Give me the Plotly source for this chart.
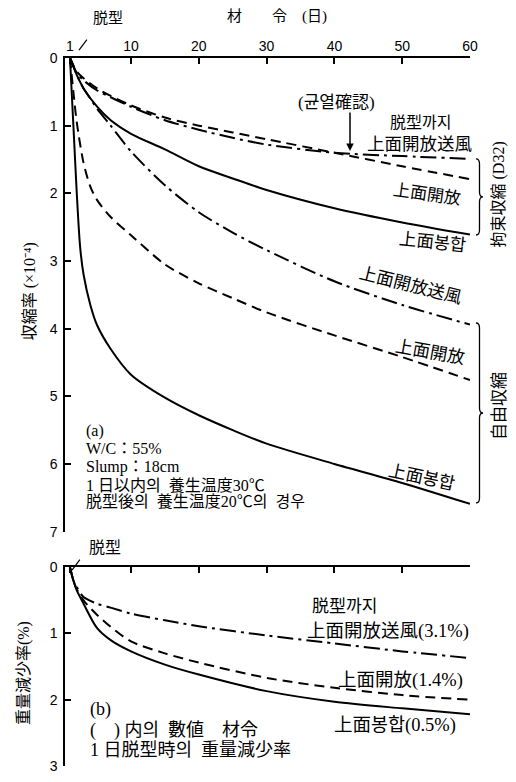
import plotly.graph_objects as go

# ---------------- data ----------------
# (a) constrained shrinkage (拘束収縮 D32), x10^-4
c_days = [1, 2, 3, 5, 7, 10, 15, 20, 25, 30, 40, 50, 60]
c_blow = [0, 0.22, 0.33, 0.48, 0.58, 0.72, 0.92, 1.06, 1.18, 1.28, 1.40, 1.45, 1.49]
c_open = [0, 0.20, 0.30, 0.45, 0.56, 0.70, 0.88, 1.00, 1.10, 1.20, 1.40, 1.60, 1.79]
c_seal = [0, 0.25, 0.45, 0.72, 0.92, 1.12, 1.35, 1.60, 1.78, 1.95, 2.22, 2.43, 2.61]

# (a) free shrinkage (自由収縮)
fb_days = [1, 1.5, 2, 3, 4, 5, 7, 10, 15, 20, 25, 30, 40, 50, 60]
f_blow = [0, 0.12, 0.25, 0.45, 0.60, 0.75, 1.00, 1.38, 1.88, 2.28, 2.58, 2.84, 3.30, 3.65, 3.94]
fo_days = [1, 1.5, 2, 3, 4, 5, 7, 10, 15, 20, 25, 30, 40, 50, 60]
f_open = [0, 0.50, 0.95, 1.55, 1.90, 2.10, 2.35, 2.62, 3.05, 3.33, 3.55, 3.76, 4.10, 4.42, 4.76]
fs_days = [1, 1.3, 1.6, 2, 2.5, 3, 4, 5, 7, 10, 15, 20, 25, 30, 40, 50, 60]
f_seal = [0, 0.6, 1.2, 2.0, 2.8, 3.2, 3.65, 3.95, 4.3, 4.68, 5.02, 5.28, 5.5, 5.7, 6.0, 6.28, 6.59]

# (b) weight loss (重量減少率 %)
w_days = [1, 1.5, 2, 3, 5, 7, 10, 15, 20, 30, 40, 50, 60]
w_blow = [0, 0.20, 0.30, 0.45, 0.55, 0.61, 0.70, 0.80, 0.89, 1.03, 1.15, 1.27, 1.37]
w_open = [0, 0.20, 0.33, 0.50, 0.72, 0.90, 1.12, 1.30, 1.44, 1.67, 1.82, 1.93, 2.00]
w_seal = [0, 0.20, 0.35, 0.55, 0.92, 1.10, 1.27, 1.47, 1.62, 1.87, 2.03, 2.13, 2.22]

x_ticks = [1, 10, 20, 30, 40, 50, 60]
y1_ticks = [0, 1, 2, 3, 4, 5, 6, 7]
y2_ticks = [0, 1, 2, 3]

# ---------------- layout helpers ----------------
W, H = 516, 782
ML, MR, MT, MB = 65, 46, 58, 8
PW, PH = W - ML - MR, H - MT - MB


def px(xp):
    return (xp - ML) / PW


def py(yp):
    return (H - MB - yp) / PH


FONT = "Liberation Serif, Noto Sans CJK JP, serif"
TICKFONT = dict(family="Liberation Sans Narrow, Liberation Sans, sans-serif", size=14, color="black")
DASH = "10px,6px"
DASHDOT = "16px,5px,3px,5px"

fig = go.Figure()


def add(xs, ys, dash, xa, ya):
    fig.add_trace(go.Scatter(x=xs, y=ys, mode="lines", xaxis=xa, yaxis=ya,
                             line=dict(color="black", width=2, dash=dash, shape="spline", smoothing=0.8),
                             showlegend=False, hoverinfo="skip"))


add(c_days, c_blow, DASHDOT, "x", "y")
add(c_days, c_open, DASH, "x", "y")
add(c_days, c_seal, "solid", "x", "y")
add(fb_days, f_blow, DASHDOT, "x", "y")
add(fo_days, f_open, DASH, "x", "y")
add(fs_days, f_seal, "solid", "x", "y")
add(w_days, w_blow, DASHDOT, "x2", "y2")
add(w_days, w_open, DASH, "x2", "y2")
add(w_days, w_seal, "solid", "x2", "y2")

xr = [1 - 5 / (400 / 59), 60]
axcommon = dict(range=xr, side="top", showline=True, linecolor="black", linewidth=1.5,
                ticks="inside", ticklen=6, tickwidth=1.5, tickcolor="black",
                tickvals=x_ticks, showgrid=False, zeroline=False, tickfont=TICKFONT)
yaxcommon = dict(showline=True, linecolor="black", linewidth=1.5, ticks="inside", ticklen=6,
                 tickwidth=1.5, tickcolor="black", showgrid=False, zeroline=False,
                 tickfont=TICKFONT, ticklabelstandoff=3)

fig.update_layout(
    width=W, height=H, margin=dict(l=ML, r=MR, t=MT, b=MB),
    paper_bgcolor="white", plot_bgcolor="white", showlegend=False,
    xaxis=dict(domain=[0, 1], anchor="y", showticklabels=True, ticklabelstandoff=0, **axcommon),
    xaxis2=dict(domain=[0, 1], anchor="y2", showticklabels=False, **axcommon),
    yaxis=dict(domain=[py(537), 1], range=[7, 0], anchor="x", tickvals=y1_ticks, **yaxcommon),
    yaxis2=dict(domain=[0, py(573)], range=[3, 0], anchor="x2", tickvals=y2_ticks, **yaxcommon),
)

ann = []


def text(xp, yp, s, size=15, angle=0, xanchor="center", yanchor="middle", align="center"):
    ann.append(dict(x=px(xp), y=py(yp), xref="paper", yref="paper", text=s, showarrow=False,
                    font=dict(family=FONT, size=size, color="black"), textangle=angle,
                    xanchor=xanchor, yanchor=yanchor, align=align))


def slash(x0, y0, x1, y1):
    ann.append(dict(x=px(x0), y=py(y0), xref="paper", yref="paper", text="", showarrow=True,
                    ax=x1 - x0, ay=y1 - y0, arrowhead=0, arrowwidth=1.2, arrowcolor="black"))


# title / axis titles
text(277, 16, "材　　令　(日)", size=15)
text(108, 18, "脱型", size=15)
slash(79, 50, 88, 38)
text(30, 294, "収縮率 (×10⁻⁴)", size=16, angle=-90)
text(24, 680, "重量減少率(%)", size=16, angle=-90)
text(499, 196, "拘束収縮 (D32)", size=16, angle=-90)
text(499, 410, "自由収縮", size=17, angle=-90)

# labels (a) constrained
text(336, 103, "(균열確認)", size=17)
text(420, 123, "脱型까지", size=16)
text(419, 145, "上面開放送風", size=17.5)
text(427, 196, "上面開放", size=17, angle=8)
text(432, 244, "上面봉합", size=17.5, angle=6)
# labels (a) free
text(410, 288, "上面開放送風", size=17.5, angle=14)
text(430, 355, "上面開放", size=17.5, angle=10)
text(421, 482, "上面봉합", size=17.5, angle=12)

# crack arrow
ann.append(dict(x=1 + (350 - 70) / (400 / 59), y=(152 - 58) / (479 / 7), xref="x", yref="y", text="",
                showarrow=True, ax=0, ay=-40, arrowhead=2, arrowsize=1, arrowwidth=1.5, arrowcolor="black"))

# condition block (a)
a_lines = ["(a)", "W/C：55%", "Slump：18cm", "1 日以内의  養生温度30℃", "脱型後의  養生温度20℃의  경우"]
a_y = [435, 453, 472, 490, 507]
for s, yy in zip(a_lines, a_y):
    text(84, yy, s, size=16, xanchor="left")

# (b)
text(105, 553, "脱型", size=16)
slash(72, 576, 81, 564)
text(344, 613, "脱型까지", size=17)
text(388, 638, "上面開放送風(3.1%)", size=18.5)
text(400, 688, "上面開放(1.4%)", size=18.5)
text(395, 733, "上面봉합(0.5%)", size=18.5)
b_lines = ["(b)", "(　) 内의  數値　材令", "1 日脱型時의  重量減少率"]
b_y = [717, 738, 758]
for s, yy in zip(b_lines, b_y):
    text(88, yy, s, size=18, xanchor="left")

fig.update_layout(annotations=ann)


# braces
def brace(x0, ytop, ybot, w=7):
    ym = (ytop + ybot) / 2
    xm = x0 + w / 2
    pts = (f"M {px(x0)},{py(ytop)} Q {px(xm)},{py(ytop)} {px(xm)},{py(ytop + 5)} "
           f"L {px(xm)},{py(ym - 5)} Q {px(xm)},{py(ym)} {px(x0 + w)},{py(ym)} "
           f"Q {px(xm)},{py(ym)} {px(xm)},{py(ym + 5)} "
           f"L {px(xm)},{py(ybot - 5)} Q {px(xm)},{py(ybot)} {px(x0)},{py(ybot)}")
    return dict(type="path", path=pts, xref="paper", yref="paper",
                line=dict(color="black", width=1.3))


fig.update_layout(shapes=[brace(476, 160, 237), brace(476, 326, 508)])

fig.write_html("out.html", config={"displayModeBar": False},
               post_script="document.body.style.margin='0px';")
